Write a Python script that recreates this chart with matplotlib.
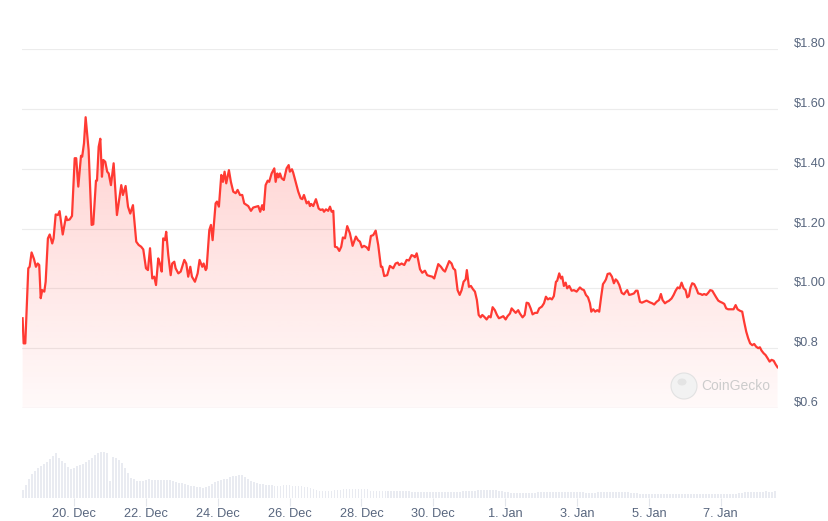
"""
Price chart (CoinGecko style): red price line with gradient fill, volume bars below.
"""

import numpy as np
import matplotlib
matplotlib.use("Agg")
import matplotlib.pyplot as plt
import matplotlib.transforms as mtransforms
from matplotlib.patches import PathPatch, Ellipse

plt.rcParams["font.family"] = ["Liberation Sans", "DejaVu Sans"]

# ─── data ───────────────────────────────────────────────────────────────────
# time in hours since 18 Dec 00:00, price in USD
HOURS = [
    13.7, 14.4, 15.5, 17.5, 18.4, 19.7, 21.3, 22.6, 23.8, 24.8, 25.8, 26.8, 28.2, 29.1, 30.6,
    31.8, 33.5, 34.4, 35.8, 37.3, 38.4, 40.5, 42.7, 43.5, 45.1, 46.7, 48.5, 49.5, 50.9, 52.7,
    53.5, 54.7, 55.8, 57.8, 59.8, 60.9, 62.7, 63.4, 64.5, 65.6, 66.7, 67.6, 68.9, 70.2, 71.2,
    72.7, 74.5, 76.7, 79.6, 80.7, 82.5, 84.1, 85.6, 87.4, 89.6, 91.2, 92.9, 94.3, 96.1, 97.4,
    98.8, 100.3, 101.6, 102.8, 104.3, 105.4, 106.6, 107.6, 108.8, 109.6, 111.0, 112.6, 113.6,
    115.0, 115.9, 117.7, 119.3, 121.7, 123.0, 124.3, 125.7, 126.8, 128.8, 130.6, 131.9, 133.7,
    134.6, 136.0, 136.6, 138.4, 139.5, 140.6, 142.6, 143.5, 144.8, 146.4, 147.5, 148.6, 149.7,
    151.5, 152.8, 154.4, 156.0, 157.3, 158.9, 160.4, 161.7, 164.4, 166.2, 167.7, 171.1, 172.4,
    173.7, 174.7, 176.0, 177.4, 178.4, 180.0,
    181.8, 182.7, 183.8, 184.7, 185.6, 186.7, 188.2, 190.0, 191.4, 192.2, 193.6, 194.4, 196.3,
    197.8, 199.4, 200.5, 201.6, 203.4, 204.7, 205.6, 206.5, 207.8, 209.6, 211.4, 212.7, 214.1,
    215.0, 216.3, 217.8, 219.0, 220.1, 221.2, 222.3, 223.8, 225.2, 226.5, 227.6, 229.0, 230.5,
    232.3, 234.1, 236.3, 237.7, 239.0, 240.3, 241.7, 243.5, 244.8, 246.3, 247.9, 249.5, 251.2,
    253.0, 253.9, 255.2, 257.2, 259.0, 261.2, 262.8,
    264.2, 265.2, 266.8, 268.6, 270.2, 271.7, 273.5, 274.9, 275.7, 276.9, 277.9, 279.1, 280.6,
    282.4, 283.9, 285.7, 287.3, 288.6, 289.9, 291.3, 293.1, 294.6, 295.8, 297.1, 298.6, 300.2,
    301.3, 302.6, 304.2, 305.6, 306.9, 308.2, 309.6, 310.4, 311.8, 313.1, 314.5, 315.8, 317.1,
    318.3, 319.6, 320.7, 322.0, 323.6, 325.1, 326.3, 327.6, 329.1, 330.5, 331.8, 333.2, 334.7,
    336.3, 337.6, 339.2, 340.3, 341.4, 343.0, 344.7, 345.8,
    347.6, 349.0, 350.3, 351.6, 353.0, 354.3, 355.9, 357.4, 358.7, 360.5, 361.9, 363.2, 364.5,
    365.9, 367.2, 368.5, 369.9, 370.7, 372.1, 373.2, 374.1, 375.2, 376.4, 377.4, 378.8, 380.4,
    381.9, 383.7, 385.0, 385.9, 387.2, 388.6, 389.9, 391.3, 392.6, 393.5, 394.8, 396.1, 397.5,
    398.8, 400.1, 401.3, 402.4, 403.3, 404.4, 405.9, 407.3, 408.6, 409.8, 410.8, 412.2, 413.8,
    415.3, 416.6, 417.5, 418.8, 420.4, 422.0, 423.3, 424.4, 426.0, 427.3, 428.6, 430.4,
    432.7, 434.2, 435.5, 437.1, 438.7, 440.0, 441.1, 442.7, 444.0, 445.3, 447.1, 448.5, 449.8,
    451.2, 452.5, 453.8, 455.2, 456.5, 457.6, 458.7, 459.8, 460.9, 462.2, 463.6, 464.9, 466.5,
    467.6, 468.9, 470.3, 471.6, 472.9, 474.3, 475.6, 476.9, 478.3, 479.6, 480.9, 482.3, 483.6,
    484.9, 486.7, 488.5, 489.9, 491.2, 492.8, 494.3, 495.6, 497.0, 498.3, 499.6, 501.0, 502.3,
    503.6, 505.0, 506.1, 507.2, 508.6, 509.9, 511.3, 512.6, 513.9, 515.3, 516.6, 517.9,
]
PRICES = [
    0.900, 0.816, 0.816, 1.067, 1.072, 1.120, 1.098, 1.072, 1.083, 1.078, 0.967, 0.994, 0.989, 1.022, 1.167,
    1.180, 1.150, 1.167, 1.247, 1.245, 1.258, 1.180, 1.240, 1.228, 1.230, 1.242, 1.435, 1.435, 1.340, 1.443,
    1.440, 1.485, 1.572, 1.462, 1.212, 1.214, 1.360, 1.360, 1.473, 1.500, 1.373, 1.429, 1.423, 1.390, 1.384,
    1.345, 1.418, 1.245, 1.345, 1.312, 1.342, 1.273, 1.250, 1.278, 1.156, 1.145, 1.139, 1.130, 1.067, 1.061,
    1.134, 1.033, 1.039, 1.011, 1.100, 1.083, 1.056, 1.167, 1.161, 1.189, 1.111, 1.044, 1.083,
    1.089, 1.067, 1.050, 1.056, 1.095, 1.083, 1.039, 1.072, 1.039, 1.022, 1.050, 1.095, 1.072,
    1.083, 1.061, 1.067, 1.195, 1.212, 1.161, 1.284, 1.290, 1.273, 1.379, 1.356, 1.390, 1.351,
    1.395, 1.356, 1.323, 1.318, 1.329, 1.312, 1.312, 1.284, 1.275, 1.259, 1.270, 1.275, 1.256,
    1.278, 1.262, 1.345, 1.360, 1.356, 1.384,
    1.401, 1.356, 1.384, 1.371, 1.384, 1.368, 1.362, 1.401, 1.412, 1.390, 1.398, 1.387, 1.351,
    1.323, 1.301, 1.298, 1.312, 1.284, 1.290, 1.275, 1.282, 1.275, 1.298, 1.267, 1.262, 1.264,
    1.256, 1.264, 1.259, 1.273, 1.256, 1.259, 1.139, 1.137, 1.125, 1.139, 1.170, 1.167, 1.208,
    1.184, 1.142, 1.173, 1.161, 1.156, 1.137, 1.142, 1.137, 1.128, 1.175, 1.178, 1.193, 1.145,
    1.072, 1.072, 1.041, 1.044, 1.075, 1.067, 1.083,
    1.086, 1.078, 1.083, 1.078, 1.095, 1.093, 1.111, 1.108, 1.104, 1.117, 1.095, 1.064, 1.052,
    1.059, 1.044, 1.041, 1.039, 1.033, 1.056, 1.081, 1.072, 1.061, 1.056, 1.072, 1.091, 1.083,
    1.067, 1.061, 0.994, 0.978, 0.994, 1.022, 1.030, 1.061, 1.005, 1.008, 0.997, 0.989, 0.961,
    0.911, 0.903, 0.911, 0.905, 0.896, 0.907, 0.903, 0.937, 0.927, 0.911, 0.900, 0.903, 0.907,
    0.896, 0.907, 0.916, 0.933, 0.927, 0.918, 0.927, 0.916,
    0.903, 0.911, 0.952, 0.950, 0.933, 0.913, 0.918, 0.918, 0.933, 0.939, 0.950, 0.972, 0.963,
    0.967, 0.963, 0.974, 1.022, 1.025, 1.050, 1.033, 1.039, 1.008, 1.019, 1.000, 1.008, 0.992,
    0.994, 0.989, 0.997, 1.003, 0.997, 0.994, 0.978, 0.970, 0.950, 0.922, 0.930, 0.922, 0.927,
    0.922, 0.972, 1.014, 1.022, 1.030, 1.048, 1.050, 1.039, 1.017, 1.030, 1.025, 1.011, 0.985,
    0.980, 0.989, 0.994, 0.978, 0.980, 0.983, 0.992, 0.992, 0.955, 0.952, 0.955, 0.959,
    0.953, 0.950, 0.946, 0.955, 0.961, 0.981, 0.961, 0.950, 0.955, 0.958, 0.966, 0.978, 0.992,
    1.003, 1.000, 1.019, 1.000, 0.994, 0.970, 0.974, 1.003, 1.017, 1.014, 1.000, 0.983, 0.981,
    0.978, 0.981, 0.978, 0.985, 0.994, 0.992, 0.981, 0.970, 0.959, 0.955, 0.952, 0.948, 0.933,
    0.930, 0.930, 0.930, 0.944, 0.930, 0.925, 0.922, 0.888, 0.855, 0.833, 0.816, 0.810, 0.814,
    0.805, 0.800, 0.803, 0.792, 0.783, 0.777, 0.766, 0.755, 0.761, 0.758, 0.746, 0.736,
]

# volume, one bar every 2 h starting at hour 14 (relative units)
VOL_START_HOUR = 14
VOL_STEP_HOURS = 2
VOLUMES = [
    8, 13, 19, 24, 27, 30, 32, 34, 36, 39, 42, 45,
    40, 37, 35, 31, 29, 30, 32, 33, 34, 36, 38, 40,
    43, 45, 46, 46, 45, 17, 41, 40, 38, 35, 30, 25,
    20, 19, 17, 17, 17, 18, 19, 18, 18, 18, 18, 18,
    18, 18, 17, 16, 15, 15, 14, 13, 12, 12, 11, 11,
    10, 11, 12, 14, 16, 17, 18, 19, 19, 21, 22, 22,
    23, 23, 21, 19, 17, 16, 15, 14, 14, 13, 13, 13,
    12, 12, 12, 13, 13, 13, 12, 12, 12, 12, 11, 11,
    10, 9, 8, 7, 7, 7, 7, 7, 8, 8, 8, 9,
    9, 9, 9, 9, 9, 9, 9, 9, 7, 7, 7, 7,
    7, 7, 7, 7, 7, 7, 7, 7, 7, 7, 6, 6,
    6, 6, 6, 6, 6, 6, 6, 6, 6, 6, 6, 6,
    6, 6, 6, 7, 7, 7, 7, 7, 8, 8, 8, 8,
    8, 8, 8, 7, 7, 6, 6, 5, 5, 5, 5, 5,
    5, 5, 5, 5, 6, 6, 6, 6, 6, 6, 6, 6,
    6, 6, 6, 6, 6, 6, 6, 6, 5, 5, 5, 5,
    6, 6, 6, 6, 6, 6, 6, 6, 6, 6, 6, 5,
    5, 5, 4, 4, 4, 4, 4, 4, 4, 4, 4, 4,
    4, 4, 4, 4, 4, 4, 4, 4, 4, 4, 4, 4,
    4, 4, 4, 4, 4, 4, 4, 4, 4, 4, 4, 5,
    5, 6, 6, 6, 6, 6, 6, 6, 7, 6, 6, 7,
]

DATE_TICK_HOURS = [48, 96, 144, 192, 240, 288, 336, 384, 432, 480]
DATE_TICK_LABELS = ["20. Dec", "22. Dec", "24. Dec", "26. Dec", "28. Dec",
                    "30. Dec", "1. Jan", "3. Jan", "5. Jan", "7. Jan"]
PRICE_TICKS = [0.6, 0.8, 1.0, 1.2, 1.4, 1.6, 1.8]
PRICE_LABELS = ["$0.6", "$0.8", "$1.00", "$1.20", "$1.40", "$1.60", "$1.80"]
# ────────────────────────────────────────────────────────────────────────────

LINE_RED = "#ff3a33"
TEXT_GREY = "#58667e"
W, H, DPI = 829, 521, 100
X_MIN, X_MAX = 13.3, 518.2


def px_axes(fig, left, top, right, bottom):
    """axes placed by pixel edges (origin top-left)."""
    return fig.add_axes([left / W, 1 - bottom / H, (right - left) / W, (bottom - top) / H])


fig = plt.figure(figsize=(W / DPI, H / DPI), dpi=DPI)

# ─── price panel ────────────────────────────────────────────────────────────
ax = px_axes(fig, 22, 49, 778, 408)
ax.set_xlim(X_MIN, X_MAX)
ax.set_ylim(PRICE_TICKS[0], PRICE_TICKS[-1])
ax.axis("off")

for v in PRICE_TICKS[1:]:
    ax.axhline(v, color="#ececec", lw=0.8, zorder=0)
ax.axhline(PRICE_TICKS[0], color="#e3e7ef", lw=0.9, zorder=0)

# gradient fill under the line
poly = ax.fill_between(HOURS, PRICES, PRICE_TICKS[0], facecolor="none", edgecolor="none")
clip = PathPatch(poly.get_paths()[0], transform=ax.transData, facecolor="none", edgecolor="none")
ax.add_patch(clip)
grad = np.zeros((256, 1, 4))
grad[:, 0, 0], grad[:, 0, 1], grad[:, 0, 2] = 1.0, 58 / 255, 51 / 255
grad[:, 0, 3] = np.linspace(0.03, 0.28, 256)
img = ax.imshow(grad, extent=[X_MIN, X_MAX, PRICE_TICKS[0], PRICE_TICKS[-1]],
                origin="lower", aspect="auto", zorder=1, interpolation="bilinear")
img.set_clip_path(clip)

ax.plot(HOURS, PRICES, color=LINE_RED, lw=1.6, zorder=3, solid_joinstyle="round")

# right-hand price labels, a little above their grid line
lab_tf = (mtransforms.blended_transform_factory(ax.transAxes, ax.transData)
          + mtransforms.ScaledTranslation(16 / DPI, 5 / DPI, fig.dpi_scale_trans))
for v, s in zip(PRICE_TICKS, PRICE_LABELS):
    ax.text(1.0, v, s, transform=lab_tf, ha="left", va="center",
            fontsize=9.2, color=TEXT_GREY)

# ─── volume panel ───────────────────────────────────────────────────────────
vax = px_axes(fig, 22, 418, 778, 498)
vol_hours = VOL_START_HOUR + VOL_STEP_HOURS * np.arange(len(VOLUMES))
vax.bar(vol_hours, VOLUMES, width=1.2, color="#e9ebf1", linewidth=0)
vax.set_xlim(X_MIN, X_MAX)
vax.set_ylim(0, 80)
for sp in vax.spines.values():
    sp.set_visible(False)
vax.set_yticks([])
vax.set_xticks(DATE_TICK_HOURS)
vax.set_xticklabels(DATE_TICK_LABELS)
vax.tick_params(axis="x", length=6, width=0.8, color="#e3e6ec", pad=1.5,
                labelsize=9.2, labelcolor=TEXT_GREY)

# ─── watermark ──────────────────────────────────────────────────────────────
fig.add_artist(Ellipse((684 / W, 1 - 386 / H), 26 / W, 26 / H, transform=fig.transFigure,
                       facecolor="#f2f2f2", edgecolor="#e2e2e2", lw=0.8, zorder=5))
fig.add_artist(Ellipse((682 / W, 1 - 382 / H), 9 / W, 7 / H, transform=fig.transFigure,
                       facecolor="#e4e4e4", edgecolor="none", zorder=6))
fig.text(701 / W, 1 - 386 / H, "CoinGecko", ha="left", va="center",
         fontsize=10, color="#cccccc", zorder=6)

fig.savefig("out.png", dpi=DPI)
plt.close(fig)
